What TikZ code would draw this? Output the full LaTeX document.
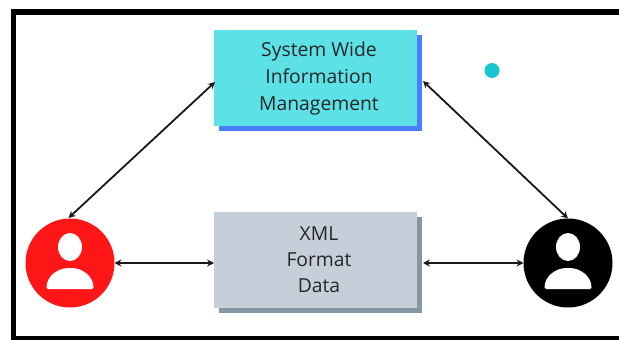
\documentclass[tikz,border=0pt]{standalone}
\usepackage{fontspec}
\setmainfont{Open Sans}
\usetikzlibrary{arrows.meta}
\definecolor{cyanbox}{HTML}{5CE1E6}
\definecolor{blueshadow}{HTML}{4A7DFF}
\definecolor{graybox}{HTML}{C5CFD9}
\definecolor{grayshadow}{HTML}{8497A6}
\definecolor{dotcol}{HTML}{17C6D0}
\definecolor{redcol}{HTML}{FF1616}
\newcommand{\shifted}[1]{\hspace*{7pt}\raisebox{-1pt}{#1}}
\tikzset{
  x=1pt,y=-1pt,
  boxbase/.style={rectangle,inner sep=0pt,minimum width=203pt,minimum height=96pt,outer sep=0pt},
  mainbox/.style={boxbase,align=center,text=black!85,font=\fontsize{19.3}{#1}\selectfont},
  usercircle/.style={circle,inner sep=0pt,minimum size=89pt,outer sep=0pt},
  link/.style={draw=black!90,line width=1.8pt,{Stealth[length=7pt,width=7pt,inset=2.5pt]}-{Stealth[length=7pt,width=7pt,inset=2.5pt]}},
}
\newcommand{\personicon}[2]{%
  \fill[white] (#1,#2-16) ellipse [x radius=12,y radius=14];
  \fill[white,rounded corners=1.5pt] (#1-23.5,#2+26) -- (#1+23.5,#2+26)
    .. controls (#1+23.5,#2+13) and (#1+12,#2+5) .. (#1,#2+5)
    .. controls (#1-12,#2+5) and (#1-23.5,#2+13) .. cycle;
}
\begin{document}
\begin{tikzpicture}
\useasboundingbox (0,0) rectangle (619,340);
\fill[white] (0,0) rectangle (619,340);
% frame, running off the right edge
\fill[black] (11,9) rectangle (619,15);
\fill[black] (11,9) rectangle (16,340);
\fill[black] (11,336) rectangle (619,340);
% shadows
\node[boxbase,fill=blueshadow,anchor=north west] (sha) at (219,35) {};
\node[boxbase,fill=grayshadow,anchor=north west] (shb) at (219,217) {};
% boxes
\node[mainbox=27,fill=cyanbox,anchor=north west] (swim) at (214,30) {\shifted{System Wide}\\\shifted{Information}\\\shifted{Management}};
\node[mainbox=26,fill=graybox,anchor=north west] (xml) at (214,212) {\shifted{XML}\\\shifted{Format}\\\shifted{Data}};
% users
\node[usercircle,fill=redcol] (ua) at (70,263) {};
\node[usercircle,fill=black] (ub) at (568,263) {};
\personicon{70}{263}
\personicon{568}{263}
% dot
\node[circle,fill=dotcol,inner sep=0pt,minimum size=15pt] (dot) at (492,70.5) {};
% connectors
\coordinate (swl) at (215,82);
\coordinate (swr) at (423,81);
\coordinate (uat) at (68.5,218);
\draw[link] (uat) -- (swl);
\draw[link] (swr) -- (ub.north);
\coordinate (xr) at (423,263);
\draw[link] (ua.east) -- (xml.west |- ua.east);
\draw[link] (xr) -- (ub.west);
\end{tikzpicture}
\end{document}
